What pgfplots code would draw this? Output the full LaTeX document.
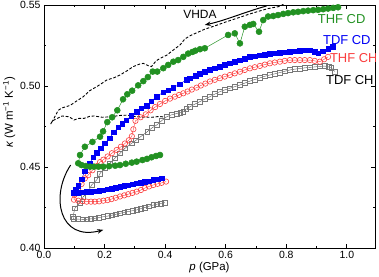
\documentclass[border=0pt]{standalone}
\usepackage{pgfplots}
\pgfplotsset{compat=1.18}
\usepackage{fontspec}
\setmainfont{Liberation Sans}
\usetikzlibrary{calc,arrows.meta}
\definecolor{cgreen}{RGB}{34,145,34}
\definecolor{cblue}{RGB}{0,0,245}
\definecolor{cred}{RGB}{250,60,60}
\definecolor{cgray}{RGB}{120,120,120}
\begin{document}
\begin{tikzpicture}
\begin{axis}[name=ax,
  scale only axis, width=331bp, height=243bp,
  xmin=0, xmax=1.093, ymin=0.40, ymax=0.55,
  xtick={0,0.2,0.4,0.6,0.8,1.0},
  minor xtick={0.1,0.3,0.5,0.7,0.9},
  ytick={0.40,0.45,0.50,0.55},
  minor ytick={0.425,0.475,0.525},
  tick align=inside, 
  major tick length=4bp, minor tick length=2.5bp,
  axis line style={line width=0.9bp},
  every tick/.style={line width=0.8bp, black},
  xticklabel style={/pgf/number format/.cd, fixed, fixed zerofill, precision=1},
  yticklabel style={/pgf/number format/.cd, fixed, fixed zerofill, precision=2},
  /pgf/number format/assume math mode=true,
  tick label style={font=\fontsize{10.5}{12}\selectfont},
  label style={font=\fontsize{11.5}{13}\selectfont},
  xlabel={\textit{p} (GPa)},
  ylabel={\textit{κ} (W m\textsuperscript{−1} K\textsuperscript{−1})},
  xlabel style={yshift=4bp},
  ylabel style={yshift=-2bp, xshift=14bp},
  clip=true,
]
% VHDA dashed
\addplot[black, line width=0.9bp, dash pattern=on 2.8bp off 1.8bp] coordinates {
(0.805,0.5515)(0.79,0.5505)(0.78,0.5492)(0.76,0.5485)(0.74,0.5478)(0.71,0.5462)(0.68,0.5445)(0.64,0.5420)(0.60,0.5395)(0.57,0.5375)(0.53,0.5350)(0.50,0.5325)(0.482,0.5310)(0.465,0.5290)(0.45,0.5255)(0.427,0.5222)(0.405,0.5190)(0.383,0.5170)(0.37,0.5155)(0.355,0.5120)(0.345,0.5125)(0.328,0.5140)(0.315,0.5135)(0.295,0.5120)(0.275,0.5095)(0.251,0.5068)(0.23,0.5050)(0.207,0.5037)(0.19,0.5015)(0.174,0.4996)(0.15,0.4970)(0.13,0.4934)(0.11,0.4910)(0.086,0.4880)(0.06,0.4865)(0.047,0.4850)(0.03,0.4790)(0.022,0.4765)(0.028,0.4785)(0.044,0.4800)(0.06,0.4815)(0.083,0.4810)(0.099,0.4790)(0.115,0.4800)(0.132,0.4800)(0.150,0.4812)(0.165,0.4815)(0.192,0.4807)(0.22,0.4810)(0.25,0.4818)(0.275,0.4820)(0.30,0.4812)(0.33,0.4807)(0.357,0.4807)(0.38,0.4812)(0.40,0.4808)
};
% TDF CH gray open squares
\addplot[cgray!70!black, line width=0.4bp, mark=square, mark size=2.4bp, mark options={cgray, line width=0.6bp, fill=white}] coordinates {
(0.399,0.4280)(0.385,0.4275)(0.372,0.4270)(0.361,0.4265)(0.347,0.4258)(0.333,0.4250)(0.320,0.4243)(0.306,0.4235)(0.292,0.4230)(0.278,0.4225)(0.265,0.4220)(0.251,0.4214)(0.237,0.4208)(0.223,0.4202)(0.210,0.4197)(0.196,0.4193)(0.182,0.4188)(0.168,0.4183)(0.155,0.4180)(0.141,0.4177)(0.127,0.4177)(0.113,0.4178)(0.097,0.4178)(0.096,0.4195)
(0.102,0.4245)(0.117,0.4276)(0.130,0.4317)(0.146,0.4348)(0.157,0.4389)(0.174,0.4420)(0.185,0.4460)(0.201,0.4492)(0.218,0.4523)(0.234,0.4554)(0.251,0.4584)(0.267,0.4615)(0.289,0.4646)(0.304,0.4665)(0.319,0.4687)(0.341,0.4718)(0.357,0.4742)(0.372,0.4759)(0.388,0.4785)(0.405,0.4810)(0.421,0.4822)(0.438,0.4830)(0.450,0.4837)(0.460,0.4843)(0.470,0.4858)(0.482,0.4872)(0.498,0.4888)(0.515,0.4904)(0.531,0.4919)(0.548,0.4934)(0.564,0.4950)(0.581,0.4965)(0.597,0.4976)(0.614,0.4986)(0.630,0.4996)(0.647,0.5006)(0.663,0.5018)(0.680,0.5030)(0.696,0.5040)(0.713,0.5050)(0.729,0.5060)(0.746,0.5068)(0.762,0.5075)(0.779,0.5083)(0.795,0.5091)(0.812,0.5099)(0.828,0.5104)(0.845,0.5108)(0.861,0.5112)(0.878,0.5115)(0.894,0.5118)(0.911,0.5121)(0.927,0.5123)(0.940,0.5118)(0.949,0.5110)(0.960,0.5090)
};
% THF CH red open circles
\addplot[cred, line width=0.4bp, mark=o, mark size=2.7bp, mark options={cred, line width=0.6bp, fill=white}] coordinates {
(0.403,0.4410)(0.388,0.4402)(0.375,0.4396)(0.361,0.4389)(0.347,0.4380)(0.333,0.4370)(0.320,0.4358)(0.306,0.4348)(0.292,0.4340)(0.278,0.4332)(0.265,0.4325)(0.251,0.4318)(0.237,0.4310)(0.223,0.4302)(0.210,0.4296)(0.196,0.4292)(0.182,0.4288)(0.168,0.4286)(0.155,0.4286)(0.141,0.4286)(0.127,0.4289)(0.113,0.4292)(0.099,0.4298)
(0.101,0.4330)(0.113,0.4365)(0.124,0.4395)(0.135,0.4430)(0.146,0.4450)(0.160,0.4480)(0.174,0.4505)(0.185,0.4530)(0.196,0.4545)(0.210,0.4565)(0.224,0.4585)(0.240,0.4605)(0.254,0.4625)(0.267,0.4645)(0.280,0.4665)(0.290,0.4690)(0.295,0.4733)(0.302,0.4785)(0.319,0.4807)(0.336,0.4825)(0.352,0.4850)(0.367,0.4870)(0.383,0.4889)(0.400,0.4908)(0.416,0.4922)(0.432,0.4934)(0.446,0.4945)(0.460,0.4955)(0.474,0.4966)(0.488,0.4978)(0.504,0.4990)(0.518,0.5003)(0.533,0.5015)(0.548,0.5028)(0.564,0.5038)(0.581,0.5048)(0.597,0.5058)(0.614,0.5068)(0.630,0.5078)(0.647,0.5088)(0.663,0.5099)(0.680,0.5109)(0.696,0.5116)(0.713,0.5124)(0.729,0.5132)(0.746,0.5140)(0.762,0.5145)(0.779,0.5150)(0.795,0.5155)(0.812,0.5160)(0.828,0.5160)(0.845,0.5160)(0.861,0.5160)(0.878,0.5160)(0.894,0.5155)(0.911,0.5150)(0.925,0.5165)(0.938,0.5180)
};
% TDF CD blue filled squares
\addplot[cblue, line width=0.4bp, mark=square*, mark size=2.3bp, mark options={cblue}] coordinates {
(0.388,0.4430)(0.375,0.4425)(0.361,0.4420)(0.347,0.4413)(0.333,0.4408)(0.320,0.4404)(0.306,0.4400)(0.292,0.4393)(0.278,0.4388)(0.265,0.4383)(0.251,0.4378)(0.237,0.4372)(0.223,0.4367)(0.210,0.4362)(0.196,0.4358)(0.182,0.4354)(0.168,0.4351)(0.155,0.4349)(0.141,0.4348)(0.127,0.4345)(0.113,0.4342)(0.099,0.4340)
(0.104,0.4360)(0.113,0.4385)(0.124,0.4425)(0.135,0.4475)(0.150,0.4520)(0.163,0.4560)(0.175,0.4590)(0.188,0.4615)(0.201,0.4646)(0.216,0.4677)(0.231,0.4715)(0.245,0.4745)(0.258,0.4768)(0.272,0.4790)(0.288,0.4815)(0.306,0.4842)(0.321,0.4862)(0.339,0.4880)(0.354,0.4905)(0.372,0.4934)(0.394,0.4962)(0.410,0.4975)(0.427,0.4990)(0.449,0.5012)(0.471,0.5040)(0.482,0.5047)(0.500,0.5062)(0.515,0.5075)(0.531,0.5088)(0.548,0.5099)(0.564,0.5110)(0.581,0.5120)(0.597,0.5130)(0.614,0.5140)(0.630,0.5150)(0.647,0.5160)(0.663,0.5170)(0.680,0.5180)(0.696,0.5185)(0.713,0.5190)(0.729,0.5195)(0.746,0.5200)(0.762,0.5203)(0.779,0.5206)(0.795,0.5209)(0.812,0.5212)(0.828,0.5215)(0.845,0.5217)(0.861,0.5220)(0.878,0.5222)(0.894,0.5210)(0.905,0.5202)(0.921,0.5215)(0.938,0.5230)(0.954,0.5243)
};
% THF CD green filled circles
\addplot[cgreen, line width=0.5bp, mark=*, mark size=3.0bp, mark options={cgreen}] coordinates {
(0.383,0.4574)(0.370,0.4568)(0.355,0.4560)(0.340,0.4550)(0.325,0.4543)(0.306,0.4533)(0.290,0.4527)(0.270,0.4520)(0.251,0.4512)(0.235,0.4508)(0.215,0.4505)(0.196,0.4502)(0.180,0.4502)(0.165,0.4502)(0.152,0.4502)(0.138,0.4506)(0.124,0.4512)(0.113,0.4523)
(0.119,0.4574)(0.135,0.4625)(0.160,0.4655)(0.185,0.4687)(0.195,0.4720)(0.209,0.4777)(0.225,0.4807)(0.242,0.4850)(0.261,0.4918)(0.275,0.4949)(0.291,0.4971)(0.311,0.5004)(0.328,0.5030)(0.343,0.5055)(0.359,0.5089)(0.374,0.5089)(0.394,0.5110)(0.410,0.5130)(0.427,0.5150)(0.443,0.5160)(0.460,0.5180)(0.476,0.5200)(0.490,0.5210)(0.500,0.5218)(0.515,0.5227)(0.531,0.5233)
(0.608,0.5315)(0.630,0.5325)(0.647,0.5263)(0.663,0.5366)(0.680,0.5377)(0.691,0.5383)(0.710,0.5335)(0.724,0.5407)(0.740,0.5429)(0.757,0.5432)(0.773,0.5438)(0.790,0.5445)(0.806,0.5450)(0.823,0.5455)(0.839,0.5458)(0.856,0.5462)(0.872,0.5465)(0.889,0.5468)(0.905,0.5470)(0.922,0.5474)(0.938,0.5478)(0.955,0.5482)(0.971,0.5486)
};
% arrows
\draw[black, line width=1bp, -{Stealth[length=6bp,width=4.5bp]}] (axis cs:0.735,0.5494) .. controls (axis cs:0.66,0.5455) and (axis cs:0.60,0.5405) .. (axis cs:0.531,0.5377);
\draw[black, line width=1bp, -{Stealth[length=6bp,width=4.5bp]}] (axis cs:0.088,0.4512) .. controls (axis cs:0.02,0.432) and (axis cs:0.05,0.404) .. (axis cs:0.196,0.4112);
% labels
\node[font=\fontsize{12}{14}\selectfont] at (axis cs:0.515,0.5444) {VHDA};
\node[font=\fontsize{13}{15}\selectfont, text=cgreen] at (axis cs:0.983,0.5414) {THF CD};
\node[font=\fontsize{13}{15}\selectfont, text=cblue] at (axis cs:1.0,0.5284) {TDF CD};
\node[font=\fontsize{13}{15}\selectfont, text=cred] at (axis cs:1.023,0.5173) {THF CH};
\node[font=\fontsize{13}{15}\selectfont, text=black] at (axis cs:1.01,0.5037) {TDF CH};
\end{axis}
\pgfresetboundingbox
\path[use as bounding box] ($(ax.south west)+(-44bp,-29bp)$) rectangle ($(ax.north east)+(4bp,5bp)$);
\end{tikzpicture}
\end{document}
